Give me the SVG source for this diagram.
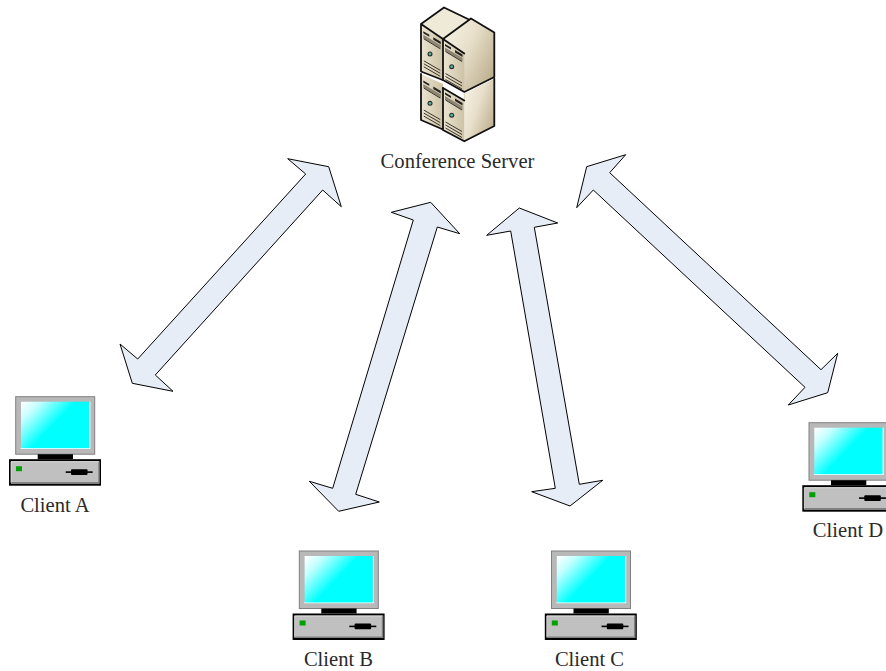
<svg xmlns="http://www.w3.org/2000/svg" xmlns:xlink="http://www.w3.org/1999/xlink" width="886" height="671" viewBox="0 0 886 671">
<style>
.arrow{fill:#e7edf7;stroke:#000;stroke-width:1;stroke-linejoin:miter}
.lbl{font-family:"Liberation Serif","Times New Roman",serif;font-size:20.6px;fill:#2a2a2a;text-anchor:middle}
.edge{fill:none;stroke:#111;stroke-width:1.8;stroke-linejoin:round;stroke-linecap:round}
</style>
<defs>
<linearGradient id="scr" gradientUnits="userSpaceOnUse" x1="6" y1="5" x2="34" y2="32"><stop offset="0" stop-color="#fff"/><stop offset="0.35" stop-color="#c4ffff"/><stop offset="1" stop-color="#0ff"/></linearGradient>
<linearGradient id="side" x1="0" y1="0" x2="1" y2="0.7"><stop offset="0" stop-color="#f8f4e8"/><stop offset="0.5" stop-color="#e8e0cb"/><stop offset="1" stop-color="#bfb292"/></linearGradient>
<linearGradient id="front" x1="0" y1="0" x2="1" y2="0"><stop offset="0" stop-color="#ebe4d0"/><stop offset="1" stop-color="#cdc2a5"/></linearGradient>
<g id="pc">
<rect x="0" y="0" width="79" height="57.5" fill="#b8b8b8" stroke="#808080" stroke-width="1"/>
<path d="M5 51.5H74V5" fill="none" stroke="#fff" stroke-width="1.4"/>
<rect x="5.3" y="5" width="68.2" height="46.5" fill="url(#scr)"/>
<rect x="22" y="57.5" width="35.3" height="5" fill="#000"/>
<rect x="-6.7" y="62.5" width="92" height="26.5" fill="#000"/>
<rect x="-4.7" y="64.5" width="88" height="22.5" fill="#c0c0c0"/>
<path d="M-4.7 86.2H83.3V64.5" fill="none" stroke="#808080" stroke-width="1.6"/>
<path d="M-4.7 86V65H83" fill="none" stroke="#e6e6e6" stroke-width="0.8"/>
<rect x="0.3" y="69.5" width="6" height="5" fill="#00a000"/>
<rect x="50" y="74.6" width="27" height="1.6" fill="#000"/>
<rect x="55.3" y="72.5" width="16.5" height="5.8" rx="1" fill="#000"/>
</g>
<g id="front-detail">
<path d="M445 44L451 47.5V49.5L445 46ZM455 50L462.5 54.5V57L455 52.5Z" fill="#222"/>
<path d="M445 47.5L462.5 58V61.5L445 51Z" fill="#8f8570"/>
<path d="M445.5 51.5L462 61.5" stroke="#333" stroke-width="1" fill="none"/>
<circle cx="451.7" cy="66.7" r="2.5" fill="#2a2a2a"/>
<circle cx="451.7" cy="66.7" r="1.4" fill="#55b09a"/>
<path d="M445.5 73.5L462 83M445.5 76.5L462 86M445.5 79.5L462 89" stroke="#3a362e" stroke-width="1" fill="none"/>
</g>
</defs>
<rect width="886" height="671" fill="#fff"/>
<g id="connectors">
<polygon class="arrow" points="287.7,158.7 328.7,166.7 341.3,206.7 322.7,190 155.3,375 173,391.3 132.3,383.3 120,344 137.7,359 305.7,174"/>
<polygon class="arrow" points="430.7,202.3 459.7,233.7 437.3,227 355.7,494.3 379.3,502 338.7,511.3 309.3,481.3 332.7,488.3 413.3,220 391.3,212.3"/>
<polygon class="arrow" points="519.3,208 557.7,223 534.3,227.3 579.3,484.3 602.7,480.3 570,506 531.7,491.7 555.3,488.3 510.7,231 486.7,235.3"/>
<polygon class="arrow" points="625.7,154.7 586.7,166.7 576.7,207.7 593.3,190 805,387.3 788.3,405 827.7,392.7 837.7,353.3 821,369.7 609.7,172.7"/>
</g>
<g id="server">
<path d="M421 24L444 7.5L472 21L443 40V80L421 71.5Z" fill="#efe9d8"/>
<path d="M421 24L443 39V80L421 71.5Z" fill="url(#front)"/>
<use href="#front-detail" xlink:href="#front-detail" transform="translate(-21.7,-12.7)"/>
<path class="edge" d="M443 39L421 24L444 7.5L471 20.5M421 24V71.5L442.7 80"/>
<path d="M421 74L443 84V129.5L421 120Z" fill="url(#front)"/>
<use href="#front-detail" xlink:href="#front-detail" transform="translate(-21.7,36.6)"/>
<path class="edge" d="M421 74V120L443 129.5"/>
<path d="M443 39L471 18.5L494.3 32.5V77L464.3 92L443 80Z" fill="url(#side)"/>
<path d="M443 39L464.3 53.5V92L443 80Z" fill="url(#front)"/>
<use href="#front-detail" xlink:href="#front-detail"/>
<path class="edge" d="M443 39L471 18.5L494.3 32.5V77L464.3 92L443 80Z"/>
<path d="M443 39L464.3 53.5" class="edge"/>
<path d="M464.3 93.5L494.3 78.5V126L464.3 141.3Z" fill="url(#side)"/>
<path d="M443 88L464.3 100V141.3L443 130Z" fill="url(#front)"/>
<path d="M464.3 93.5V100" stroke="#d9d0b8" stroke-width="1" fill="none"/>
<use href="#front-detail" xlink:href="#front-detail" transform="translate(0,48.5)"/>
<path class="edge" d="M443 88V130L464.3 141.3L494.3 126V78.5"/>
<path class="edge" d="M443 88L464.3 100.5"/>
<text class="lbl" x="457.5" y="168">Conference Server</text>
</g>
<g id="client-a"><use href="#pc" xlink:href="#pc" transform="translate(15.7,396.7)"/><text class="lbl" x="55" y="512">Client A</text></g>
<g id="client-b"><use href="#pc" xlink:href="#pc" transform="translate(299.3,551)"/><text class="lbl" x="338.5" y="666">Client B</text></g>
<g id="client-c"><use href="#pc" xlink:href="#pc" transform="translate(551.5,551)"/><text class="lbl" x="589.5" y="666">Client C</text></g>
<g id="client-d"><use href="#pc" xlink:href="#pc" transform="translate(809,422.7)"/><text class="lbl" x="848" y="537">Client D</text></g>
</svg>
